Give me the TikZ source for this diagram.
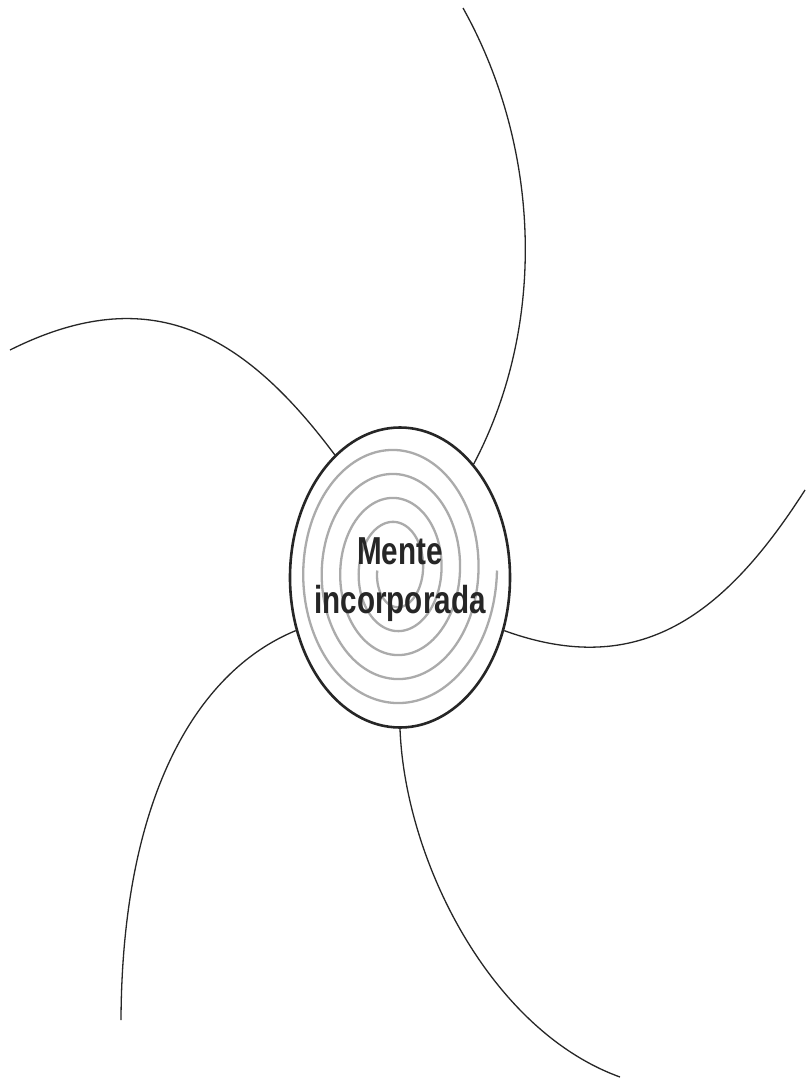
\documentclass[tikz,border=0pt]{standalone}
\usepackage{fontspec}
\usetikzlibrary{shapes.geometric}
\newfontfamily\narrowfont[FakeStretch=0.76]{Liberation Sans}
\begin{document}
\begin{tikzpicture}[x=1pt,y=-1pt,
  branch/.style={draw=black!85, line width=1.3pt},
  core/.style={ellipse, draw=black!85, line width=2.6pt, minimum width=220pt, minimum height=300pt, inner sep=0pt},
  spiralline/.style={draw=black!33, line width=2.3pt},
  label/.style={font=\narrowfont\bfseries\fontsize{39}{49}\selectfont, align=center, inner sep=0pt, text=black!85}]
\useasboundingbox[fill=white] (0,0) rectangle (806,1081);
% spiral
\draw[spiralline] plot[domain=180:1800, samples=500, variable=\t, smooth]
  ({395.5 + (101.5-0.051389*(1800-\t))*cos(-\t)}, {570.5 + (138.5-0.066667*(1800-\t))*sin(-\t)});
\node[core] (c) at (400,577.5) {};
\node[label] (t) at (400,580) {Mente\\incorporada};
% free ends
\coordinate (e1) at (463,8);
\coordinate (e2) at (805,490);
\coordinate (e3) at (620,1077);
\coordinate (e4) at (121,1020);
\coordinate (e5) at (10,350);
\draw[branch] (c.57.5) .. controls (548,323) and (540,146) .. (e1);
\draw[branch] (c.-27.9) .. controls (640,680) and (725,615) .. (e2);
\draw[branch] (c.-90) .. controls (405,860) and (490,1030) .. (e3);
\draw[branch] (c.207.4) .. controls (195,672) and (122,800) .. (e4);
\draw[branch] (c.118.7) .. controls (243,332) and (150,280) .. (e5);
\end{tikzpicture}
\end{document}
